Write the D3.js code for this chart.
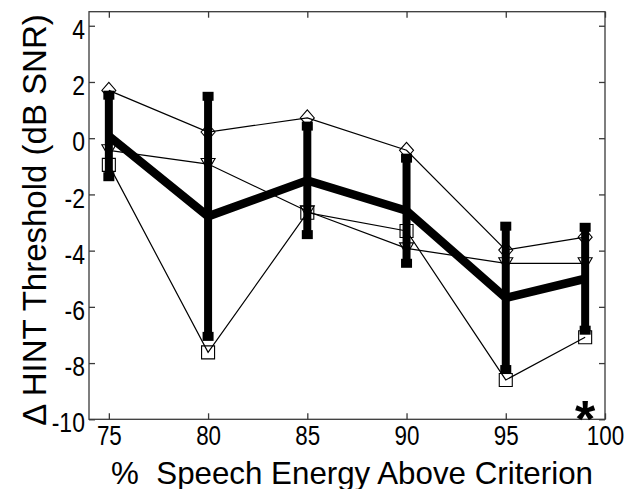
<!DOCTYPE html>
<html>
<head>
<meta charset="utf-8">
<script src="https://cdn.jsdelivr.net/npm/d3@7"></script>
<style>
  html, body { margin: 0; padding: 0; background: #fff; }
  svg { display: block; }
  .tick text { font-family: "Liberation Sans", Arial, sans-serif; }
</style>
</head>
<body>
<div id="chart"></div>
<script>
// ---- Data ----
const xValues = [75, 80, 85, 90, 95, 99];
const meanValues = [0.08, -2.78, -1.5, -2.58, -5.68, -5.0];
const errValues = [1.45, 4.27, 1.93, 1.87, 2.55, 1.83];
const diamondValues = [1.7, 0.22, 0.72, -0.43, -3.98, -3.52];
const triangleValues = [-0.43, -0.92, -2.6, -3.92, -4.45, -4.45];
const squareValues = [-0.95, -7.62, -2.65, -3.3, -8.6, -7.08];
const xTicks = [75, 80, 85, 90, 95, 100];
const yTicks = [-10, -8, -6, -4, -2, 0, 2, 4];
const xDomain = [74, 100];
const yDomain = [-10, 4.5];
const xLabel = "%  Speech Energy Above Criterion";
const yLabel = "\u0394 HINT Threshold (dB SNR)";
const starX = 99;
const starText = "*";

// ---- Layout ----
const W = 625, H = 489;
const plot = { left: 89, right: 605, top: 11.7, bottom: 419.3 };

const svg = d3.select("#chart").append("svg")
  .attr("width", W).attr("height", H);

const x = d3.scaleLinear().domain(xDomain).range([plot.left, plot.right]);
const y = d3.scaleLinear().domain(yDomain).range([plot.bottom, plot.top]);

const axisColor = "#3a3a3a";

// frame
svg.append("rect")
  .attr("x", plot.left).attr("y", plot.top)
  .attr("width", plot.right - plot.left).attr("height", plot.bottom - plot.top)
  .attr("fill", "none").attr("stroke", axisColor).attr("stroke-width", 1.3);

function styleAxis(g, showLabels) {
  g.select(".domain").remove();
  g.selectAll(".tick line").attr("stroke", axisColor).attr("stroke-width", 1.3);
  if (!showLabels) g.selectAll(".tick text").remove();
  else g.selectAll(".tick text").attr("fill", "#000").attr("font-size", 28);
}

const fmt = d => String(d);

svg.append("g").attr("transform", `translate(0,${plot.bottom})`)
  .call(d3.axisBottom(x).tickValues(xTicks).tickSize(-6).tickSizeOuter(0).tickPadding(6).tickFormat(fmt))
  .call(g => styleAxis(g, true))
  .call(g => g.selectAll(".tick text").attr("dy", "0.71em").attr("transform", "scale(0.8,1)"));

svg.append("g").attr("transform", `translate(0,${plot.top})`)
  .call(d3.axisTop(x).tickValues(xTicks).tickSize(-6).tickSizeOuter(0))
  .call(g => styleAxis(g, false));

svg.append("g").attr("transform", `translate(${plot.left},0)`)
  .call(d3.axisLeft(y).tickValues(yTicks).tickSize(-6).tickSizeOuter(0).tickPadding(5).tickFormat(fmt))
  .call(g => styleAxis(g, true))
  .call(g => g.selectAll(".tick text").attr("dy", "0.45em").attr("transform", "scale(0.82,1)"));

svg.append("g").attr("transform", `translate(${plot.right},0)`)
  .call(d3.axisRight(y).tickValues(yTicks).tickSize(-6).tickSizeOuter(0))
  .call(g => styleAxis(g, false));

// ---- Thin individual series ----
const series = [
  { values: diamondValues, symbol: "diamond" },
  { values: triangleValues, symbol: "triangle" },
  { values: squareValues, symbol: "square" }
];

const line = d3.line().x(d => x(d[0])).y(d => y(d[1]));

function markerPath(type) {
  if (type === "diamond") return "M0,-8L7,0L0,8L-7,0Z";
  if (type === "triangle") return "M-7,-5.5L7,-5.5L0,6.5Z";
  return "M-6.5,-6.5L6.5,-6.5L6.5,6.5L-6.5,6.5Z";
}

series.forEach(s => {
  const pts = xValues.map((xv, i) => [xv, s.values[i]]);
  svg.append("path").datum(pts)
    .attr("d", line)
    .attr("fill", "none").attr("stroke", "#000").attr("stroke-width", 1.2);
  svg.append("g").selectAll("path").data(pts).join("path")
    .attr("transform", d => `translate(${x(d[0])},${y(d[1])})`)
    .attr("d", markerPath(s.symbol))
    .attr("fill", "none").attr("stroke", "#000").attr("stroke-width", 1.1);
});

// ---- Mean with error bars ----
const meanPts = xValues.map((xv, i) => [xv, meanValues[i], errValues[i]]);
svg.append("path").datum(meanPts)
  .attr("d", line)
  .attr("fill", "none").attr("stroke", "#000").attr("stroke-width", 8.5)
  .attr("stroke-linejoin", "miter");

const eb = svg.append("g");
eb.selectAll("line").data(meanPts).join("line")
  .attr("x1", d => x(d[0])).attr("x2", d => x(d[0]))
  .attr("y1", d => y(d[1] + d[2])).attr("y2", d => y(d[1] - d[2]))
  .attr("stroke", "#000").attr("stroke-width", 8);
eb.selectAll("rect.top").data(meanPts).join("rect").attr("class", "top")
  .attr("x", d => x(d[0]) - 5.5).attr("y", d => y(d[1] + d[2]) - 4.5)
  .attr("width", 11).attr("height", 9).attr("fill", "#000");
eb.selectAll("rect.bot").data(meanPts).join("rect").attr("class", "bot")
  .attr("x", d => x(d[0]) - 5.5).attr("y", d => y(d[1] - d[2]) - 4.5)
  .attr("width", 11).attr("height", 9).attr("fill", "#000");

// ---- Asterisk ----
svg.append("text")
  .attr("x", x(starX)).attr("y", 437)
  .attr("text-anchor", "middle")
  .attr("font-family", "Liberation Sans, Arial, sans-serif")
  .attr("font-weight", "bold").attr("font-size", 52)
  .text(starText);

// ---- Axis labels ----
svg.append("text")
  .attr("x", 352).attr("y", 484)
  .attr("text-anchor", "middle")
  .attr("font-family", "Liberation Sans, Arial, sans-serif")
  .attr("font-size", 31.3)
  .style("white-space", "pre")
  .text(xLabel);

svg.append("text")
  .attr("transform", "translate(46,220) rotate(-90)")
  .attr("text-anchor", "middle")
  .attr("font-family", "Liberation Sans, Arial, sans-serif")
  .attr("font-size", 33)
  .text(yLabel);
</script>
</body>
</html>
